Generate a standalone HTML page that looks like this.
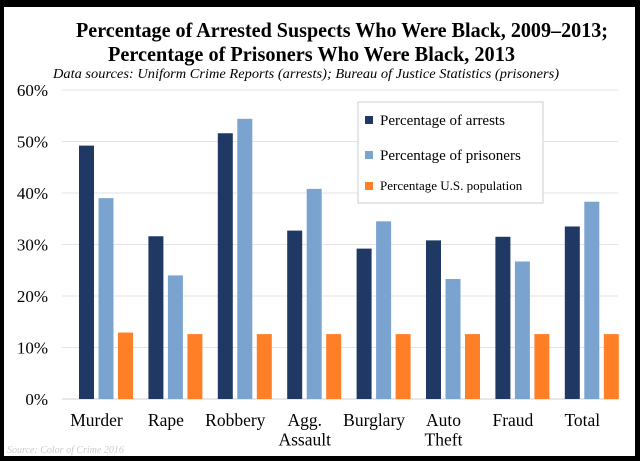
<!DOCTYPE html>
<html><head><meta charset="utf-8"><style>
html,body{margin:0;padding:0;background:#000;}
svg{display:block;font-family:"Liberation Serif",serif;}
</style></head><body>
<svg width="640" height="461" viewBox="0 0 640 461" xmlns="http://www.w3.org/2000/svg">
<rect x="0" y="0" width="640" height="461" fill="#000"/>
<rect x="4" y="7" width="631" height="449" fill="#fff"/>
<text x="76" y="37" font-size="21" font-weight="bold" textLength="532" lengthAdjust="spacingAndGlyphs">Percentage of Arrested Suspects Who Were Black, 2009–2013;</text>
<text x="108" y="61" font-size="21" font-weight="bold" textLength="407" lengthAdjust="spacingAndGlyphs">Percentage of Prisoners Who Were Black, 2013</text>
<text x="53" y="78" font-size="13.5" font-style="italic" textLength="506" lengthAdjust="spacingAndGlyphs">Data sources: Uniform Crime Reports (arrests); Bureau of Justice Statistics (prisoners)</text>
<g id="grid"></g>
<g id="bars"></g>
<g id="labels"></g>
<g>
<rect x="358" y="102" width="185" height="101" fill="#fff" stroke="#ccc"/>
<rect x="365" y="116" width="8" height="8" fill="#1f3864"/>
<text x="380" y="125" font-size="15">Percentage of arrests</text>
<rect x="365" y="151" width="8" height="8" fill="#7ba3d0"/>
<text x="380" y="160" font-size="15">Percentage of prisoners</text>
<rect x="365" y="182" width="8" height="8" fill="#ff7f27"/>
<text x="380" y="190" font-size="13">Percentage U.S. population</text>
</g>
<text x="7" y="453" font-size="10" font-style="italic" fill="#ccc">Source: Color of Crime 2016</text>
</svg>
<script>
const categories = [["Murder"],["Rape"],["Robbery"],["Agg.","Assault"],["Burglary"],["Auto","Theft"],["Fraud"],["Total"]];
const arrests = [49.2, 31.6, 51.6, 32.7, 29.2, 30.8, 31.5, 33.5];
const prisoners = [39.0, 24.0, 54.4, 40.8, 34.5, 23.3, 26.7, 38.3];
const population = [12.9, 12.6, 12.6, 12.6, 12.6, 12.6, 12.6, 12.6];
const yTicks = [0, 10, 20, 30, 40, 50, 60];
const tickLabels = ["0%","10%","20%","30%","40%","50%","60%"];

const NS = "http://www.w3.org/2000/svg";
const y0 = 399, pxPerPct = 5.15;
function yScale(v){ return y0 - v * pxPerPct; }
function xCenter(i){ return 106 + i * 69.4; }
function mk(tag, attrs, parent){ const e = document.createElementNS(NS, tag); for (const k in attrs) e.setAttribute(k, attrs[k]); parent.appendChild(e); return e; }

const grid = document.getElementById('grid');
yTicks.forEach((t, i) => {
  const l = mk('line', {x1: 62, x2: 618, y1: yScale(t), y2: yScale(t), stroke: i === 0 ? '#cfcfcf' : '#e3e3e3', 'stroke-width': 1}, grid);
  
  
  const tx = mk('text', {x: 48, y: yScale(t) + 6, 'text-anchor': 'end', 'font-size': 17}, grid);
  tx.textContent = tickLabels[i];
  
  
});

const bars = document.getElementById('bars');
const series = [[arrests, '#1f3864', 'arrests'], [prisoners, '#7ba3d0', 'prisoners'], [population, '#ff7f27', 'population']];
const bw = 15, step = 19.5;
categories.forEach((c, i) => {
  series.forEach((s, j) => {
    const v = s[0][i];
    const x = xCenter(i) + (j - 1) * step - bw / 2;
    const r = mk('rect', {x: x, y: yScale(v), width: bw, height: v * pxPerPct, fill: s[1]}, bars);
    
    
  });
});

const labels = document.getElementById('labels');
categories.forEach((c, i) => {
  c.forEach((line, k) => {
    const tx = mk('text', {x: xCenter(i) - 9.5, y: 426 + k * 19.5, 'text-anchor': 'middle', 'font-size': 17.5}, labels);
    tx.textContent = line;
    
    
  });
});
</script>
</body></html>
